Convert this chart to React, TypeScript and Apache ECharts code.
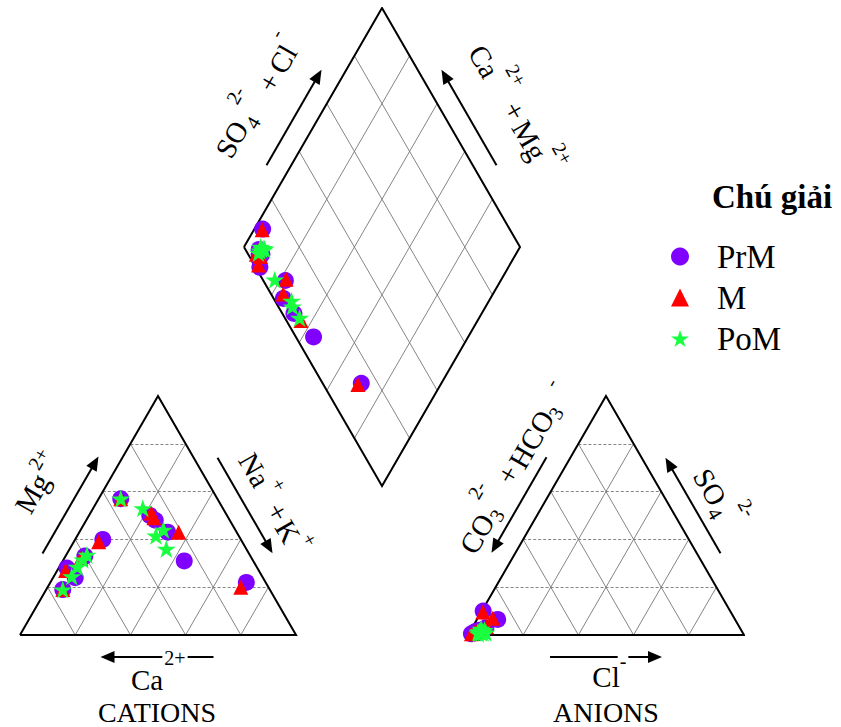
import React, { useEffect, useRef } from "react";
import * as echarts from "echarts";

// ---------- data (percent of meq) ----------
// PrM
const prmCa = [35, 27, 25, 25, 7, 50, 69, 68, 75, 28, 60];
const prmMg = [57, 48, 43, 31, 22, 40, 28, 24, 19, 50, 33];
const prmNaK = [8, 25, 32, 44, 71, 10, 3, 8, 6, 22, 7];
const prmHCO3 = [95, 96.5, 95.8, 93.6, 86, 98.5, 89.5, 97, 95, 92, 96];
const prmSO4 = [2, 1.5, 1.2, 2, 6.5, 0.5, 10, 1, 1.5, 3, 1];
const prmCl = [3, 2, 3, 4.4, 7.5, 1, 0.5, 2, 3.5, 5, 3];
// M
const mCa = [70, 10, 52, 27, 21, 27, 62, 75, 35];
const mMg = [27, 20, 39, 51, 43, 49, 32, 19, 57];
const mNaK = [3, 70, 9, 22, 36, 24, 6, 6, 8];
const mHCO3 = [89.8, 87.5, 98.5, 91.5, 94.7, 95.6, 94, 97, 96];
const mSO4 = [9.6, 7, 0.5, 3.5, 2, 1.4, 2.5, 1, 1.5];
const mCl = [0.6, 5.5, 1, 5, 3.3, 3, 3.5, 2, 2.5];
// PoM
const pomCa = [35, 29, 26, 30, 29, 59, 61.5, 65, 69, 75];
const pomMg = [57, 53, 44, 41.5, 36, 33.5, 31.5, 28.5, 24.5, 19];
const pomNaK = [8, 18, 30, 28.5, 35, 7.5, 7, 6.5, 6.5, 6];
const pomHCO3 = [93, 95.7, 94.9, 94, 94.7, 93, 94, 96, 95, 94];
const pomSO4 = [2, 1.3, 1.5, 2, 1, 1, 2.5, 0.5, 1.5, 1];
const pomCl = [5, 3, 3.6, 4, 4.3, 6, 3.5, 3.5, 3.5, 5];

const gridTicks = [20, 40, 60, 80];
const seriesNames = ["PrM", "M", "PoM"];

// ---------- Piper geometry ----------
const S3 = Math.sqrt(3) / 2;
const GAP = 62.3;
const XMAX = 200 + GAP;
const YMAX = XMAX * S3;

const cat = (ca: number, mg: number, nak: number) => [nak + mg / 2, mg * S3];
const an = (hco3: number, so4: number, cl: number) => [100 + GAP + cl + so4 / 2, so4 * S3];
const LX = 50 + GAP / 2;
const LY = GAP * S3 + 100 * S3;
const dia = (a: number, b: number) => [LX + (a + b) / 2, LY + (b - a) * S3];

function points(ca: number[], mg: number[], nak: number[], hco3: number[], so4: number[], cl: number[]) {
  const out: number[][] = [];
  ca.forEach((_, i) => {
    out.push(cat(ca[i], mg[i], nak[i]));
    out.push(an(hco3[i], so4[i], cl[i]));
    out.push(dia(nak[i], so4[i] + cl[i]));
  });
  return out;
}

const STAR =
  "path://M50,0 L62,36 L100,36 L69,58 L81,95 L50,72 L19,95 L31,58 L0,36 L38,36 Z";

const FONT = "Liberation Serif, Times New Roman, serif";

type Lbl = { t: string; x: number; y: number; s?: number; bg?: boolean };
function edgeLabel(cx: number, cy: number, rotDeg: number, half: number, headAtEnd: boolean, texts: Lbl[]) {
  const children: any[] = [];
  const dir = headAtEnd ? 1 : -1;
  const hx = headAtEnd ? half : -half;
  children.push({
    type: "line",
    shape: { x1: -dir * half, y1: 0, x2: hx - dir * 8, y2: 0 },
    style: { stroke: "#000", lineWidth: 2 },
  });
  children.push({
    type: "polygon",
    shape: { points: [[hx, 0], [hx - dir * 14, -6], [hx - dir * 14, 6]] },
    style: { fill: "#000" },
  });
  texts.forEach((t) =>
    children.push({
      type: "text",
      x: t.x,
      y: t.y,
      z: 10,
      style: {
        text: t.t,
        fontFamily: FONT,
        fontSize: t.s ?? 29,
        fill: "#000",
        align: "center",
        verticalAlign: "middle",
        backgroundColor: t.bg ? "#fff" : undefined,
        padding: t.bg ? [0, 2] : undefined,
      },
    })
  );
  return { type: "group", x: cx, y: cy, rotation: (rotDeg * Math.PI) / 180, children };
}

export default function App() {
  const ref = useRef<HTMLDivElement>(null);
  useEffect(() => {
    if (!ref.current) return;
    const chart = echarts.init(ref.current, undefined, { renderer: "svg" });

    const dashed: any[] = [];
    const solid: any[] = [];
    gridTicks.forEach((k) => {
      dashed.push({ coords: [cat(100 - k, k, 0), cat(0, k, 100 - k)] });
      solid.push({ coords: [cat(100 - k, 0, k), cat(0, 100 - k, k)] });
      solid.push({ coords: [cat(k, 0, 100 - k), cat(k, 100 - k, 0)] });
      dashed.push({ coords: [an(100 - k, k, 0), an(0, k, 100 - k)] });
      solid.push({ coords: [an(100 - k, 0, k), an(0, 100 - k, k)] });
      solid.push({ coords: [an(k, 0, 100 - k), an(k, 100 - k, 0)] });
      solid.push({ coords: [dia(k, 0), dia(k, 100)] });
      solid.push({ coords: [dia(0, k), dia(100, k)] });
    });
    const outlines = [
      { coords: [cat(100, 0, 0), cat(0, 0, 100), cat(0, 100, 0), cat(100, 0, 0)] },
      { coords: [an(100, 0, 0), an(0, 0, 100), an(0, 100, 0), an(100, 0, 0)] },
      { coords: [dia(0, 0), dia(100, 0), dia(100, 100), dia(0, 100), dia(0, 0)] },
    ];

    const option: any = {
      animation: false,
      backgroundColor: "#fff",
      title: {
        text: "Chú giải",
        left: 712,
        top: 180,
        padding: 0,
        textStyle: { fontFamily: FONT, fontWeight: "bold", fontSize: 33, color: "#000" },
      },
      legend: {
        orient: "vertical",
        left: 671,
        top: 240,
        padding: 0,
        itemWidth: 18,
        itemHeight: 18,
        itemGap: 8,
        selectedMode: false,
        data: [
          { name: seriesNames[0], icon: "circle" },
          { name: seriesNames[1], icon: "triangle" },
          { name: seriesNames[2], icon: STAR },
        ],
        textStyle: {
          fontFamily: FONT,
          fontSize: 33,
          color: "#000",
          lineHeight: 30,
          padding: [0, 0, 0, 23],
        },
      },
      grid: { left: 20, top: 8, width: 724, height: 724 * S3 },
      xAxis: { type: "value", min: 0, max: XMAX, show: false },
      yAxis: { type: "value", min: 0, max: YMAX, show: false },
      series: [
        {
          type: "lines",
          coordinateSystem: "cartesian2d",
          silent: true,
          data: dashed,
          lineStyle: { color: "#777", width: 0.9, type: [3, 2], opacity: 1 },
        },
        {
          type: "lines",
          coordinateSystem: "cartesian2d",
          silent: true,
          data: solid,
          lineStyle: { color: "#777", width: 0.9, opacity: 1 },
        },
        {
          type: "lines",
          coordinateSystem: "cartesian2d",
          polyline: true,
          silent: true,
          data: outlines,
          lineStyle: { color: "#000", width: 2, opacity: 1 },
        },
        {
          name: seriesNames[0],
          type: "scatter",
          symbol: "circle",
          symbolSize: 17,
          itemStyle: { color: "#7F00FF", opacity: 1 },
          data: points(prmCa, prmMg, prmNaK, prmHCO3, prmSO4, prmCl),
        },
        {
          name: seriesNames[1],
          type: "scatter",
          symbol: "triangle",
          symbolSize: 15,
          itemStyle: { color: "#FF0000", opacity: 1 },
          data: points(mCa, mMg, mNaK, mHCO3, mSO4, mCl),
        },
        {
          name: seriesNames[2],
          type: "scatter",
          symbol: STAR,
          symbolKeepAspect: true,
          symbolSize: 19,
          itemStyle: { color: "#19FF40", opacity: 1 },
          data: points(pomCa, pomMg, pomNaK, pomHCO3, pomSO4, pomCl),
        },
      ],
      graphic: [
        // cation left: Mg2+
        edgeLabel(70.5, 505, 60, 56, true, [
          { t: "Mg", x: -9, y: -39 },
          { t: "2+", x: 24, y: -51, s: 20 },
        ]),
        // cation right: Na+ + K+
        edgeLabel(245, 505.5, -60, 55, true, [
          { t: "Na", x: -26, y: -26 },
          { t: "+", x: -1, y: -40, s: 20 },
          { t: "+", x: 22, y: -25 },
          { t: "K", x: 44, y: -24 },
          { t: "+", x: 62, y: -39, s: 20 },
        ]),
        // cation bottom: Ca2+
        edgeLabel(157, 657, 0, 56.5, false, [
          { t: "Ca", x: -10, y: 23 },
          { t: "2+", x: 18, y: 1, s: 20, bg: true },
        ]),
        {
          type: "text",
          x: 157,
          y: 712,
          style: { text: "CATIONS", fontFamily: FONT, fontSize: 28, fill: "#000", align: "center", verticalAlign: "middle" },
        },
        // anion left: CO3 2- + HCO3 -
        edgeLabel(519, 505, 60, 55, false, [
          { t: "CO", x: -46, y: -22 },
          { t: "3", x: -20, y: -14, s: 20 },
          { t: "2-", x: -8, y: -44, s: 20 },
          { t: "+", x: 21, y: -25 },
          { t: "HCO", x: 63, y: -22 },
          { t: "3", x: 98, y: -14, s: 20 },
          { t: "-", x: 122, y: -34, s: 20 },
        ]),
        // anion right: SO4 2-
        edgeLabel(693, 505.5, -60, 55, false, [
          { t: "SO", x: -7.5, y: -24 },
          { t: "4", x: 18, y: -15, s: 20 },
          { t: "2-", x: 29, y: -46, s: 20 },
        ]),
        // anion bottom: Cl-
        edgeLabel(606, 657, 0, 56, true, [
          { t: "Cl", x: 0, y: 20 },
          { t: "-", x: 17, y: 4, s: 20, bg: true },
        ]),
        {
          type: "text",
          x: 606,
          y: 712,
          style: { text: "ANIONS", fontFamily: FONT, fontSize: 28, fill: "#000", align: "center", verticalAlign: "middle" },
        },
        // diamond upper-left: SO4 2- + Cl-
        edgeLabel(294, 117.5, 60, 55, true, [
          { t: "SO", x: -50, y: -43 },
          { t: "4", x: -25, y: -33, s: 20 },
          { t: "2-", x: -10, y: -62, s: 20 },
          { t: "+", x: 18, y: -39 },
          { t: "Cl", x: 45, y: -39 },
          { t: "-", x: 64, y: -58, s: 20 },
        ]),
        // diamond upper-right: Ca2+ + Mg2+
        edgeLabel(469, 117.5, -60, 55, false, [
          { t: "Ca", x: -41, y: -41 },
          { t: "2+", x: -13, y: -62, s: 20 },
          { t: "+", x: 17, y: -43 },
          { t: "Mg", x: 50, y: -41 },
          { t: "2+", x: 78, y: -63, s: 20 },
        ]),
      ],
    };
    chart.setOption(option);
    return () => chart.dispose();
  }, []);
  return <div ref={ref} style={{ position: "absolute", left: 0, top: 0, width: 841, height: 727, background: "#fff" }} />;
}
